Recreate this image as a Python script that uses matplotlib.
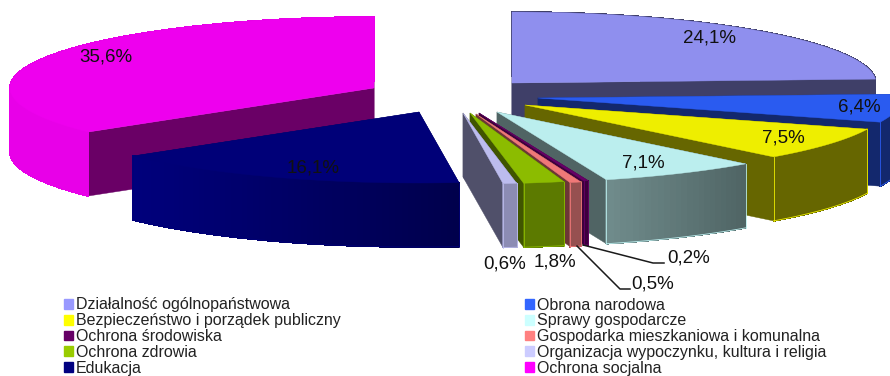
import numpy as np
import matplotlib
matplotlib.use('Agg')
import matplotlib.pyplot as plt
from matplotlib.patches import Patch
from matplotlib.colors import to_rgb

plt.rcParams['font.family'] = ['Liberation Sans', 'DejaVu Sans']

categories = ['Działalność ogólnopaństwowa', 'Obrona narodowa',
              'Bezpieczeństwo i porządek publiczny', 'Sprawy gospodarcze',
              'Ochrona środowiska', 'Gospodarka mieszkaniowa i komunalna',
              'Ochrona zdrowia', 'Organizacja wypoczynku, kultura i religia',
              'Edukacja', 'Ochrona socjalna']
values = [24.1, 6.4, 7.5, 7.1, 0.2, 0.5, 1.8, 0.6, 16.1, 35.6]

legend_colors = ['#9999ff', '#3366ff', '#ffff00', '#ccffff', '#660066',
                 '#ff8080', '#99cc00', '#ccccff', '#000080', '#ff00ff']
top_colors = ['#8f8fee', '#2a5bf0', '#eeee00', '#bbeeee', '#660066',
              '#f07878', '#8cbc00', '#bcbcee', '#000078', '#ee00ee']
side_colors = ['#3f3f68', '#13286d', '#666600', '#506464', '#3d003d',
               '#6c3636', '#405500', '#50506a', '#000060', '#6a0066']
# rim shading, left end and right end of the visible front
rim_left = ['#3f3f68', '#13286d', '#666600', '#708c8c', '#3d003d',
            '#965050', '#5c7a00', '#8c8cb4', '#00007c', '#e800e8']
rim_right = ['#3f3f68', '#13286d', '#666600', '#4f6464', '#3d003d',
             '#965050', '#5c7a00', '#8c8cb4', '#00004c', '#e800e8']

# exploded centre of every slice, in pixels
centres = [(512, 83), (538, 98), (525, 105), (497, 112), (479, 113),
           (476, 114), (470, 113), (463, 113), (419, 112), (374, 88)]
RX = 364
RY = 71
DEPTH = 64

label_pos = [(709, 38), (859, 107), (783, 138), (643, 163), (689, 258),
             (653, 284), (555, 262), (505, 264), (313, 168), (106, 57)]
leaders = {4: [(583, 245), (653, 263), (664, 263)],
           5: [(577, 246), (620, 289), (630, 289)]}


def arc(c, t0, t1, n):
    t = np.linspace(t0, t1, n)
    return c[0] + RX * np.sin(t), c[1] - RY * np.cos(t)


def draw_slice(ax, i, t0, t1):
    c = centres[i]
    # the two cut faces
    for t in (t0, t1):
        x = c[0] + RX * np.sin(t)
        y = c[1] - RY * np.cos(t)
        ax.fill([c[0], x, x, c[0]], [c[1], y, y + DEPTH, c[1] + DEPTH],
                color=side_colors[i], lw=0.3)
    # outer face, cut in strips for the shading
    n = max(3, int((t1 - t0) / np.radians(1)))
    ts = np.linspace(t0, t1, n)
    xs, ys = arc(c, t0, t1, n)
    left = np.array(to_rgb(rim_left[i]))
    right = np.array(to_rgb(rim_right[i]))
    xmin, xmax = xs.min(), xs.max()
    for k in range(n - 1):
        f = np.clip((0.5 * (xs[k] + xs[k + 1]) - xmin) / max(xmax - xmin, 1), 0, 1)
        col = left + (right - left) * f
        ax.fill([xs[k], xs[k + 1], xs[k + 1], xs[k]],
                [ys[k], ys[k + 1], ys[k + 1] + DEPTH, ys[k] + DEPTH],
                color=col, lw=0.6, antialiased=False)
    # thin light edge round the front of the outer face
    if i != 9:
        front = np.cos(ts) < 0
        ax.plot(xs[front], ys[front] + DEPTH, color=top_colors[i], lw=0.6)
        for k in (0, n - 1):
            if front[k]:
                ax.plot([xs[k], xs[k]], [ys[k], ys[k] + DEPTH],
                        color=top_colors[i], lw=0.6)
    # top
    ax.fill(np.r_[c[0], xs], np.r_[c[1], ys], color=top_colors[i], lw=0.3)


fig = plt.figure(figsize=(8.9, 3.76), dpi=100)
ax = fig.add_axes([0, 0, 1, 1])
ax.set_xlim(0, 890)
ax.set_ylim(376, 0)
ax.axis('off')

edges = np.radians(np.r_[0, np.cumsum(values)] / sum(values) * 360)
# back to front, the social slice goes under the education one
for i in [9, 8, 0, 1, 2, 3, 4, 5, 6, 7]:
    draw_slice(ax, i, edges[i], edges[i + 1])

for i, pts in leaders.items():
    ax.plot([p[0] for p in pts], [p[1] for p in pts], color='#1a1a1a', lw=1.1)

for i, v in enumerate(values):
    txt = f'{v:.1f}%'.replace('.', ',')
    ax.text(label_pos[i][0], label_pos[i][1], txt, ha='center', va='center',
            fontsize=13.5, color='#111111')

# matplotlib fills the legend by column, the chart reads it by row
order = [0, 2, 4, 6, 8, 1, 3, 5, 7, 9]
handles = [Patch(color=legend_colors[i], label=categories[i]) for i in order]
ax.legend(handles=handles, ncol=2, loc='upper left', bbox_to_anchor=(64, 297.5),
          bbox_transform=ax.transData, frameon=False, fontsize=11.5,
          labelcolor='#222222', handlelength=0.56, handleheight=0.56,
          handletextpad=0.19, labelspacing=0.05, columnspacing=11.55,
          borderpad=0, borderaxespad=0)

fig.savefig('out.png', dpi=100)
